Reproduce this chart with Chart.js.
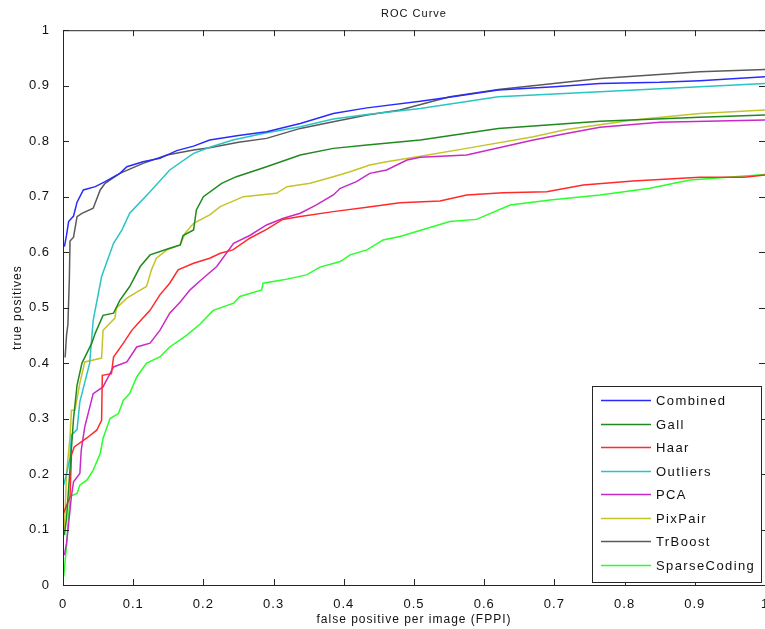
<!DOCTYPE html>
<html>
<head>
<meta charset="utf-8">
<script src="https://cdn.jsdelivr.net/npm/chart.js@4.4.1/dist/chart.umd.min.js"></script>
<style>
  html, body { margin: 0; padding: 0; background: #fff; }
  #wrap { width: 765px; height: 629px; }
</style>
</head>
<body>
<div id="wrap"><canvas id="chart"></canvas></div>
<script>
// values (x = FPPI, y = true positive rate)
const combinedX = [0.002, 0.005, 0.008, 0.015, 0.02, 0.029, 0.046, 0.06, 0.081, 0.091, 0.114, 0.138, 0.162, 0.186, 0.209, 0.25, 0.29, 0.338, 0.385, 0.433, 0.509, 0.55, 0.62, 0.7, 0.765, 0.85, 0.907, 1.0];
const combinedY = [0.61, 0.63, 0.655, 0.665, 0.69, 0.712, 0.718, 0.727, 0.742, 0.754, 0.763, 0.769, 0.783, 0.791, 0.802, 0.81, 0.817, 0.832, 0.85, 0.86, 0.872, 0.879, 0.892, 0.898, 0.904, 0.906, 0.909, 0.916];

const gallX = [0.002, 0.005, 0.01, 0.015, 0.02, 0.027, 0.041, 0.046, 0.057, 0.072, 0.081, 0.095, 0.11, 0.124, 0.152, 0.167, 0.171, 0.186, 0.19, 0.2, 0.226, 0.247, 0.29, 0.338, 0.385, 0.433, 0.509, 0.62, 0.765, 0.907, 1.0];
const gallY = [0.09, 0.12, 0.21, 0.3, 0.36, 0.4, 0.436, 0.454, 0.486, 0.49, 0.513, 0.538, 0.574, 0.595, 0.607, 0.613, 0.63, 0.64, 0.676, 0.7, 0.724, 0.736, 0.754, 0.775, 0.787, 0.793, 0.802, 0.823, 0.836, 0.843, 0.847];

const haarX = [0.001, 0.01, 0.012, 0.016, 0.034, 0.048, 0.055, 0.056, 0.069, 0.072, 0.086, 0.098, 0.107, 0.124, 0.138, 0.152, 0.164, 0.186, 0.209, 0.224, 0.242, 0.266, 0.29, 0.313, 0.338, 0.385, 0.433, 0.48, 0.537, 0.575, 0.627, 0.689, 0.741, 0.812, 0.907, 0.97, 1.0];
const haarY = [0.13, 0.159, 0.234, 0.249, 0.265, 0.279, 0.297, 0.378, 0.381, 0.411, 0.436, 0.459, 0.472, 0.495, 0.523, 0.544, 0.568, 0.58, 0.589, 0.598, 0.604, 0.625, 0.641, 0.659, 0.664, 0.673, 0.681, 0.689, 0.692, 0.703, 0.707, 0.709, 0.721, 0.728, 0.735, 0.735, 0.739];

const outliersX = [0.001, 0.005, 0.01, 0.012, 0.02, 0.024, 0.038, 0.043, 0.055, 0.072, 0.084, 0.095, 0.124, 0.152, 0.186, 0.209, 0.242, 0.29, 0.338, 0.385, 0.433, 0.509, 0.62, 0.765, 0.907, 1.0];
const outliersY = [0.18, 0.2, 0.23, 0.27, 0.28, 0.33, 0.4, 0.477, 0.556, 0.616, 0.64, 0.67, 0.709, 0.748, 0.778, 0.789, 0.802, 0.815, 0.826, 0.84, 0.848, 0.859, 0.88, 0.889, 0.898, 0.904];

const pcaX = [0.002, 0.005, 0.01, 0.012, 0.015, 0.024, 0.026, 0.031, 0.036, 0.043, 0.057, 0.072, 0.091, 0.105, 0.124, 0.138, 0.152, 0.167, 0.181, 0.195, 0.219, 0.243, 0.266, 0.29, 0.314, 0.338, 0.361, 0.385, 0.395, 0.418, 0.437, 0.461, 0.49, 0.509, 0.575, 0.67, 0.717, 0.765, 0.85, 1.0];
const pcaY = [0.054, 0.075, 0.135, 0.16, 0.186, 0.201, 0.243, 0.285, 0.31, 0.345, 0.357, 0.393, 0.402, 0.429, 0.436, 0.459, 0.49, 0.51, 0.532, 0.548, 0.574, 0.616, 0.63, 0.649, 0.661, 0.67, 0.685, 0.703, 0.715, 0.727, 0.742, 0.748, 0.766, 0.771, 0.775, 0.802, 0.814, 0.825, 0.834, 0.838];

const pixPairX = [0.002, 0.005, 0.01, 0.012, 0.017, 0.024, 0.031, 0.055, 0.057, 0.074, 0.076, 0.091, 0.105, 0.119, 0.126, 0.133, 0.148, 0.167, 0.174, 0.186, 0.209, 0.224, 0.257, 0.304, 0.319, 0.352, 0.385, 0.409, 0.437, 0.461, 0.509, 0.575, 0.67, 0.717, 0.812, 0.907, 1.0];
const pixPairY = [0.1, 0.2, 0.267, 0.315, 0.315, 0.364, 0.402, 0.409, 0.459, 0.481, 0.499, 0.517, 0.528, 0.538, 0.568, 0.589, 0.604, 0.613, 0.634, 0.652, 0.667, 0.682, 0.7, 0.706, 0.718, 0.724, 0.736, 0.745, 0.757, 0.763, 0.773, 0.787, 0.808, 0.821, 0.838, 0.85, 0.856];

const trBoostX = [0.003, 0.005, 0.007, 0.009, 0.01, 0.015, 0.02, 0.027, 0.043, 0.053, 0.06, 0.081, 0.114, 0.148, 0.186, 0.209, 0.25, 0.29, 0.338, 0.385, 0.433, 0.48, 0.551, 0.62, 0.765, 0.907, 1.0];
const trBoostY = [0.41, 0.45, 0.47, 0.55, 0.62, 0.627, 0.664, 0.67, 0.679, 0.712, 0.724, 0.742, 0.76, 0.775, 0.784, 0.788, 0.798, 0.805, 0.823, 0.835, 0.847, 0.856, 0.88, 0.893, 0.913, 0.925, 0.929];

const sparseX = [0.001, 0.005, 0.01, 0.02, 0.024, 0.034, 0.043, 0.053, 0.057, 0.067, 0.079, 0.086, 0.095, 0.105, 0.119, 0.138, 0.152, 0.176, 0.195, 0.214, 0.243, 0.252, 0.283, 0.285, 0.314, 0.347, 0.366, 0.395, 0.409, 0.433, 0.456, 0.48, 0.551, 0.589, 0.637, 0.694, 0.765, 0.836, 0.893, 1.0];
const sparseY = [0.015, 0.07, 0.16, 0.165, 0.18, 0.189, 0.207, 0.237, 0.264, 0.3, 0.309, 0.333, 0.345, 0.375, 0.4, 0.411, 0.429, 0.45, 0.47, 0.495, 0.508, 0.52, 0.532, 0.544, 0.55, 0.559, 0.573, 0.583, 0.595, 0.604, 0.622, 0.628, 0.655, 0.659, 0.685, 0.694, 0.703, 0.715, 0.73, 0.74];

const seriesNames = ['Combined', 'Gall', 'Haar', 'Outliers', 'PCA', 'PixPair', 'TrBoost', 'SparseCoding'];
const seriesColors = ['#2a2aff', '#1f8a1f', '#ff2a2a', '#2ac4c4', '#c82ac8', '#c4c42a', '#5a5a5a', '#2aff2a'];
const seriesX = [combinedX, gallX, haarX, outliersX, pcaX, pixPairX, trBoostX, sparseX];
const seriesY = [combinedY, gallY, haarY, outliersY, pcaY, pixPairY, trBoostY, sparseY];

const axisColor = '#262626';
const fontFamily = '"Liberation Sans", Arial, sans-serif';
const tickFont = { family: fontFamily, size: 13 };
const labelFont = { family: fontFamily, size: 12 };

// old matlab text is a bit spaced out, so widen every glyph a little
const spacedText = {
  id: 'spacedText',
  beforeDraw(chart) {
    chart.ctx.letterSpacing = '1px';
  }
};

// matlab-like box with ticks pointing inward on all four sides
const boxAxes = {
  id: 'boxAxes',
  afterDraw(chart) {
    const { ctx, chartArea: a, scales } = chart;
    ctx.save();
    ctx.strokeStyle = axisColor;
    ctx.lineWidth = 1;
    ctx.strokeRect(a.left + 0.5, a.top + 0.5, a.right - a.left, a.bottom - a.top);
    ctx.beginPath();
    scales.x.ticks.forEach(t => {
      const px = Math.round(scales.x.getPixelForValue(t.value)) + 0.5;
      ctx.moveTo(px, a.bottom); ctx.lineTo(px, a.bottom - 6);
      ctx.moveTo(px, a.top); ctx.lineTo(px, a.top + 6);
    });
    scales.y.ticks.forEach(t => {
      const py = Math.round(scales.y.getPixelForValue(t.value)) + 0.5;
      ctx.moveTo(a.left, py); ctx.lineTo(a.left + 6, py);
      ctx.moveTo(a.right, py); ctx.lineTo(a.right - 6, py);
    });
    ctx.stroke();
    ctx.restore();
  }
};

// legend box in the lower right corner of the plot
const boxLegend = {
  id: 'boxLegend',
  afterDraw(chart) {
    const { ctx, chartArea: a } = chart;
    const ds = chart.data.datasets;
    const w = 169, rowH = 23.5;
    const h = 196;
    const left = a.right - w - 4, top = a.bottom - h - 3;
    ctx.save();
    ctx.fillStyle = '#fff';
    ctx.fillRect(left, top, w, h);
    ctx.strokeStyle = axisColor;
    ctx.lineWidth = 1;
    ctx.strokeRect(left + 0.5, top + 0.5, w, h);
    ctx.font = '13px ' + fontFamily;
    ctx.letterSpacing = '1.4px';
    ctx.textBaseline = 'middle';
    ctx.textAlign = 'left';
    ds.forEach((d, i) => {
      const y = Math.round(top + 14 + i * rowH) + 0.5;
      ctx.strokeStyle = d.borderColor;
      ctx.lineWidth = 1.5;
      ctx.beginPath();
      ctx.moveTo(left + 9, y); ctx.lineTo(left + 59, y);
      ctx.stroke();
      ctx.fillStyle = '#111';
      ctx.fillText(d.label, left + 64, y + 1);
    });
    ctx.restore();
  }
};

const datasets = seriesNames.map((name, i) => ({
  label: name,
  data: seriesX[i].map((x, j) => ({ x: x, y: seriesY[i][j] })),
  borderColor: seriesColors[i],
  borderWidth: 1.5,
  pointRadius: 0,
  fill: false,
  tension: 0
}));

// "0", "0.1", ... "1" like the original, not "1.0"
const tickText = v => String(Number(v.toFixed(1)));

new Chart(document.getElementById('chart'), {
  type: 'line',
  data: { datasets: datasets },
  options: {
    responsive: true,
    maintainAspectRatio: false,
    animation: false,
    layout: { padding: { left: 0, right: 0, top: 0, bottom: 0 } },
    plugins: {
      legend: { display: false },
      tooltip: { enabled: false },
      title: {
        display: true,
        text: 'ROC Curve',
        fullSize: false,
        color: '#111',
        font: { family: fontFamily, size: 11, weight: 'normal' },
        padding: { top: 7, bottom: 10 }
      }
    },
    scales: {
      x: {
        type: 'linear',
        min: 0,
        max: 1,
        ticks: { stepSize: 0.1, color: '#111', font: tickFont, padding: 4, maxRotation: 0, callback: tickText },
        grid: { display: false },
        border: { display: false },
        title: {
          display: true,
          text: 'false positive per image (FPPI)',
          color: '#111',
          font: labelFont,
          padding: { top: 4, bottom: 2 }
        },
        afterFit(scale) {
          scale.height = 44;
          scale.paddingLeft = 0;
          scale.paddingRight = 0;
        }
      },
      y: {
        type: 'linear',
        min: 0,
        max: 1,
        ticks: { stepSize: 0.1, color: '#111', font: tickFont, padding: 5, callback: tickText },
        grid: { display: false },
        border: { display: false },
        title: {
          display: true,
          text: 'true positives',
          color: '#111',
          font: labelFont,
          padding: { top: 10, bottom: 0 }
        },
        afterFit(scale) {
          scale.width = 63;
          scale.paddingTop = 0;
          scale.paddingBottom = 0;
        }
      }
    }
  },
  plugins: [spacedText, boxAxes, boxLegend]
});
</script>
</body>
</html>
